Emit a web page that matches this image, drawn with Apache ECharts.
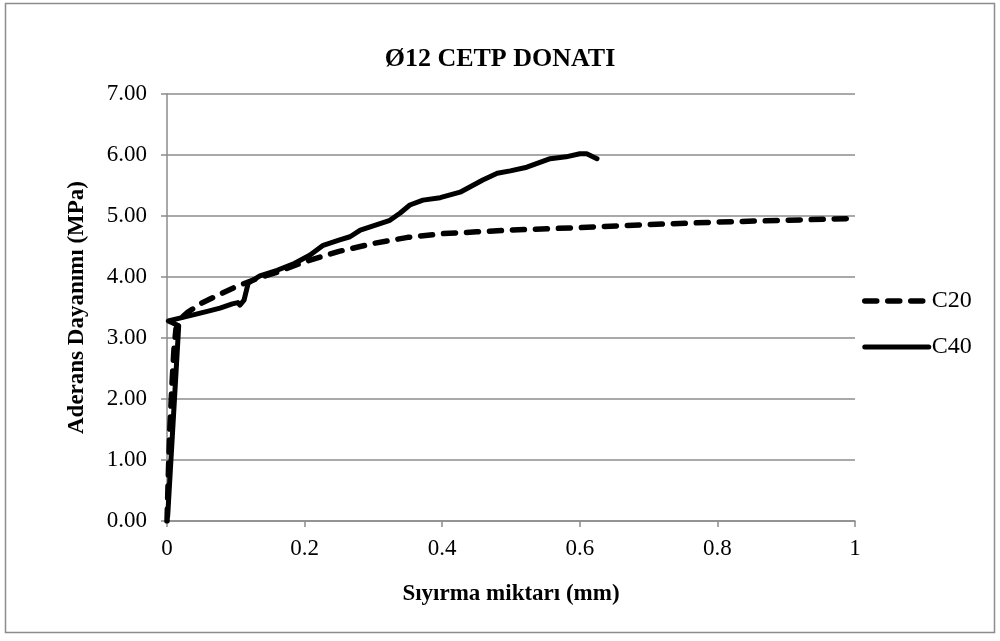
<!DOCTYPE html>
<html lang="tr">

<head>
  <meta charset="UTF-8">
  <title>Ø12 CETP DONATI</title>
  <script src="https://cdn.jsdelivr.net/npm/echarts@6/dist/echarts.min.js"></script>
  <style>
    * {
      padding: 0;
      margin: 0;
    }

    #main {
      width: 1000px;
      height: 641px;
    }
  </style>
</head>

<body>
  <div id="main"></div>
  <script>
    // sıyırma (mm), aderans (MPa)
    var c20 = [
      [0, 0], [0.002, 0.8], [0.004, 1.5], [0.007, 2.2], [0.01, 2.8], [0.013, 3.15],
      [0.02, 3.32], [0.03, 3.42], [0.05, 3.57], [0.07, 3.68], [0.1, 3.84], [0.13, 3.97],
      [0.16, 4.08], [0.2, 4.25], [0.25, 4.42], [0.3, 4.55], [0.35, 4.65], [0.4, 4.71],
      [0.45, 4.74], [0.5, 4.77], [0.6, 4.81], [0.7, 4.86], [0.8, 4.90], [0.9, 4.93], [1.0, 4.96]
    ];
    var c40 = [
      [0.001, 0.08], [0.016, 3.0], [0.017, 3.2], [0.002, 3.28], [0.02, 3.33], [0.038, 3.38],
      [0.06, 3.44], [0.077, 3.49], [0.095, 3.56], [0.103, 3.58], [0.106, 3.54], [0.112, 3.62],
      [0.118, 3.9], [0.135, 4.02], [0.16, 4.11], [0.183, 4.21], [0.208, 4.36], [0.227, 4.52],
      [0.251, 4.61], [0.266, 4.66], [0.281, 4.77], [0.324, 4.93], [0.339, 5.05], [0.353, 5.18],
      [0.372, 5.26], [0.397, 5.30], [0.426, 5.39], [0.459, 5.59], [0.48, 5.70], [0.499, 5.74],
      [0.523, 5.80], [0.557, 5.94], [0.58, 5.97], [0.6, 6.02], [0.61, 6.02], [0.625, 5.94]
    ];
    var xTicks = [0, 0.2, 0.4, 0.6, 0.8, 1];

    var font = 'Liberation Serif';
    var dash = { color: '#000', width: 5.5, type: [12, 11], cap: 'round', join: 'round' };
    var solid = { color: '#000', width: 5, cap: 'round', join: 'round' };

    var myChart = echarts.init(document.getElementById('main'));
    var option = {
      backgroundColor: '#fff',
      animation: false,
      textStyle: { fontFamily: font, color: '#000' },
      title: {
        text: 'Ø12 CETP DONATI',
        left: 'center',
        top: 41,
        textStyle: { fontFamily: font, fontWeight: 'bold', fontSize: 26, color: '#000' }
      },
      graphic: [{
        type: 'rect',
        shape: { x: 5.5, y: 3.5, width: 989, height: 629 },
        style: { fill: 'none', stroke: '#8c8c8c', lineWidth: 1.5 },
        silent: true
      }],
      legend: {
        orient: 'vertical',
        left: 857,
        top: 284,
        itemWidth: 64,
        itemHeight: 14,
        itemGap: 22,
        textStyle: { fontFamily: font, fontSize: 24, color: '#000', padding: [0, 0, 0, -2] },
        data: [
          { name: 'C20', itemStyle: { opacity: 0 }, lineStyle: dash },
          { name: 'C40', itemStyle: { opacity: 0 }, lineStyle: solid }
        ]
      },
      grid: { left: 167, right: 145, top: 94, bottom: 120 },
      xAxis: {
        type: 'value',
        min: 0,
        max: 1,
        interval: 0.2,
        name: 'Sıyırma miktarı (mm)',
        nameLocation: 'middle',
        nameGap: 62,
        nameTextStyle: { fontFamily: font, fontWeight: 'bold', fontSize: 23, color: '#000' },
        axisLine: { lineStyle: { color: '#8c8c8c', width: 1.5 } },
        axisTick: { show: true, length: 6, lineStyle: { color: '#8c8c8c', width: 1.5 }, customValues: xTicks },
        axisLabel: { fontFamily: font, fontSize: 23, color: '#000', margin: 16, customValues: xTicks },
        splitLine: { show: false }
      },
      yAxis: {
        type: 'value',
        min: 0,
        max: 7,
        interval: 1,
        name: 'Aderans Dayanımı (MPa)',
        nameLocation: 'middle',
        nameGap: 78,
        nameTextStyle: { fontFamily: font, fontWeight: 'bold', fontSize: 23, color: '#000' },
        axisLine: { show: true, lineStyle: { color: '#8c8c8c', width: 1.5 } },
        axisTick: { show: true, length: 6, lineStyle: { color: '#8c8c8c', width: 1.5 } },
        axisLabel: {
          fontFamily: font, fontSize: 23, color: '#000', margin: 20,
          formatter: function (v) { return v.toFixed(2); }
        },
        splitLine: { lineStyle: { color: '#8c8c8c', width: 1.5 } }
      },
      series: [
        {
          name: 'C20',
          type: 'line',
          symbol: 'none',
          clip: true,
          data: c20,
          lineStyle: dash,
          itemStyle: { color: '#000' }
        },
        {
          name: 'C40',
          type: 'line',
          symbol: 'none',
          clip: true,
          data: c40,
          lineStyle: solid,
          itemStyle: { color: '#000' }
        }
      ]
    };

    option && myChart.setOption(option);
  </script>
</body>

</html>
